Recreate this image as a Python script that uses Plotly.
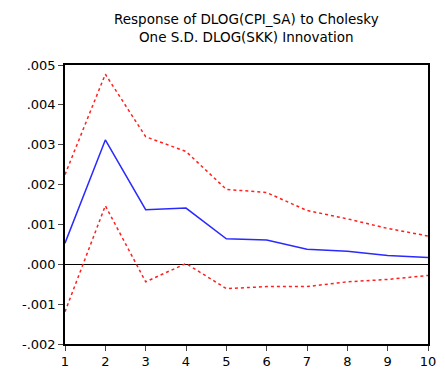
import plotly.graph_objects as go

# Impulse response periods
periods = [1, 2, 3, 4, 5, 6, 7, 8, 9, 10]

# Response of DLOG(CPI_SA) to a one S.D. DLOG(SKK) shock, with +/- 2 S.E. bands
response = [0.00053, 0.00312, 0.00137, 0.00141, 0.00064, 0.00061, 0.00038, 0.00033, 0.00022, 0.00017]
upper_band = [0.00225, 0.00477, 0.00320, 0.00283, 0.00188, 0.00180, 0.00135, 0.00114, 0.00090, 0.00071]
lower_band = [-0.00119, 0.00147, -0.00044, 0.00002, -0.00061, -0.00056, -0.00056, -0.00044, -0.00038, -0.00028]

y_tick_vals = [0.005, 0.004, 0.003, 0.002, 0.001, 0.0, -0.001, -0.002]
y_tick_text = [".005", ".004", ".003", ".002", ".001", ".000", "-.001", "-.002"]

font_family = "DejaVu Sans, Verdana, sans-serif"

fig = go.Figure()
fig.add_trace(go.Scatter(x=periods, y=upper_band, mode="lines",
                         line=dict(color="#ff2020", width=1.5, dash="dot")))
fig.add_trace(go.Scatter(x=periods, y=lower_band, mode="lines",
                         line=dict(color="#ff2020", width=1.5, dash="dot")))
fig.add_trace(go.Scatter(x=periods, y=response, mode="lines",
                         line=dict(color="#2a2aff", width=1.5)))

plot_h = 378 - 65 - 29

fig.update_layout(
    width=445, height=378,
    margin=dict(l=65, r=9, t=65, b=29),
    paper_bgcolor="white", plot_bgcolor="white",
    showlegend=False,
    font=dict(family=font_family, size=12, color="black"),
    annotations=[dict(
        text="Response of DLOG(CPI_SA) to Cholesky<br>One S.D. DLOG(SKK) Innovation",
        xref="paper", yref="paper", x=0.5, xanchor="center",
        y=1 + (65 - 27) / plot_h, yanchor="middle", showarrow=False,
        font=dict(family=font_family, size=13.5, color="black"),
    )],
)
fig.update_xaxes(
    range=[1, 10], tickvals=periods, ticks="outside", ticklen=5,
    showgrid=False, zeroline=False, showline=True, linecolor="black",
    linewidth=1.5, mirror=True, tickfont=dict(size=13),
)
fig.update_yaxes(
    range=[-0.002, 0.005], tickvals=y_tick_vals, ticktext=y_tick_text,
    ticks="outside", ticklen=5, showgrid=False, zeroline=True,
    zerolinecolor="black", zerolinewidth=1.2, showline=True,
    linecolor="black", linewidth=1.5, mirror=True, tickfont=dict(size=13),
)

fig.write_html("out.html")
